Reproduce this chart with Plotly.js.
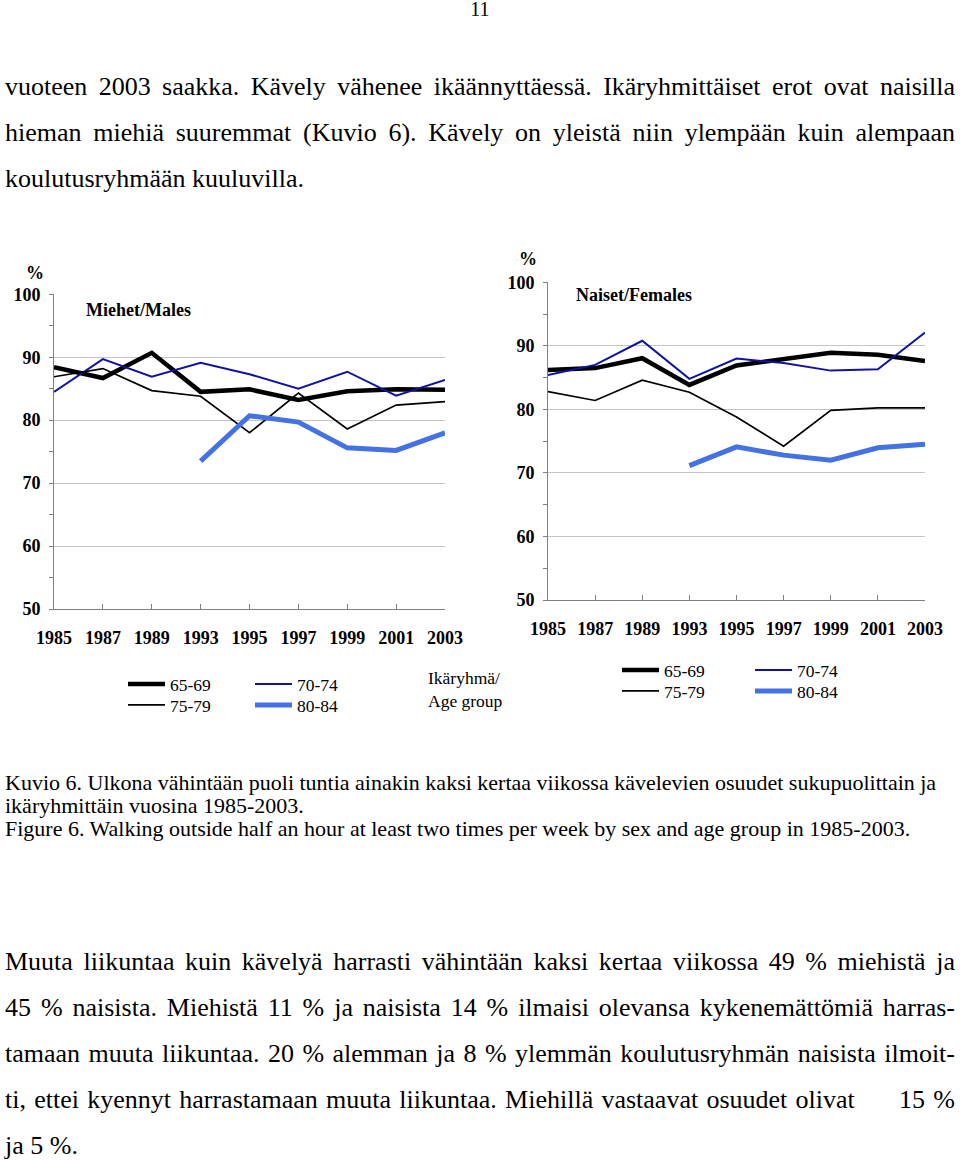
<!DOCTYPE html>
<html><head><meta charset="utf-8">
<script src="https://cdn.plot.ly/plotly-3.0.1.min.js"></script>
<style>
html,body{margin:0;padding:0;background:#fff;}
body{width:960px;height:1160px;position:relative;overflow:hidden;font-family:"Liberation Serif","Times New Roman",serif;color:#000;}
#chart{position:absolute;left:0;top:0;width:960px;height:1160px;}
.t{position:absolute;left:5px;width:950px;}
.p{font-size:26px;line-height:46px;}
.j{text-align:justify;text-align-last:justify;}
.cap{font-size:22px;line-height:23px;width:955px;}
</style></head>
<body>
<div id="chart"></div>
<div class="t" style="top:-1px;text-align:center;font-size:20px;line-height:20px;">11</div>
<div class="t p" style="top:64px;">
 <div class="j">vuoteen 2003 saakka. Kävely vähenee ikäännyttäessä. Ikäryhmittäiset erot ovat naisilla</div>
 <div class="j">hieman miehiä suuremmat (Kuvio 6). Kävely on yleistä niin ylempään kuin alempaan</div>
 <div>koulutusryhmään kuuluvilla.</div>
</div>
<div class="t cap" style="top:771px;">
 <div>Kuvio 6. Ulkona vähintään puoli tuntia ainakin kaksi kertaa viikossa kävelevien osuudet sukupuolittain ja</div>
 <div>ikäryhmittäin vuosina 1985-2003.</div>
 <div>Figure 6. Walking outside half an hour at least two times per week by sex and age group in 1985-2003.</div>
</div>
<div class="t p" style="top:939px;">
 <div class="j">Muuta liikuntaa kuin kävelyä harrasti vähintään kaksi kertaa viikossa 49 % miehistä ja</div>
 <div class="j">45 % naisista. Miehistä 11 % ja naisista 14 % ilmaisi olevansa kykenemättömiä harras-</div>
 <div class="j">tamaan muuta liikuntaa. 20 % alemman ja 8 % ylemmän koulutusryhmän naisista ilmoit-</div>
 <div class="j">ti, ettei kyennyt harrastamaan muuta liikuntaa. Miehillä vastaavat osuudet olivat<span style="display:inline-block;width:36px"></span> 15 %</div>
 <div>ja 5 %.</div>
</div>
<script>
// ---- data ----
var years = ['1985','1987','1989','1993','1995','1997','1999','2001','2003'];
var ageGroups = ['65-69','70-74','75-79','80-84'];
var yTicks = [50,60,70,80,90,100];
var yTickLabels = ['50','60','70','80','90','100'];

var males6569 = [88.4, 86.7, 90.7, 84.5, 84.9, 83.2, 84.6, 84.9, 84.85];
var males7074 = [84.5, 89.7, 86.9, 89.1, 87.3, 85.0, 87.7, 83.9, 86.4];
var males7579 = [86.9, 88.2, 84.7, 83.8, 78.0, 84.3, 78.6, 82.4, 82.95];
var males8084 = [null, null, null, 73.5, 80.7, 79.7, 75.6, 75.2, 78.0];

var females6569 = [86.2, 86.5, 88.05, 83.85, 86.9, 87.9, 88.9, 88.6, 87.6];
var females7074 = [85.4, 87.0, 90.8, 84.8, 88.0, 87.3, 86.1, 86.3, 92.1];
var females7579 = [82.8, 81.4, 84.6, 82.7, 78.8, 74.2, 79.85, 80.25, 80.25];
var females8084 = [null, null, null, 71.15, 74.1, 72.8, 72.0, 73.95, 74.5];

// ---- styles ----
var W = 960, H = 1160;
function px(x){return x/W;}
function py(y){return 1 - y/H;}
var serif = 'Liberation Serif, Times New Roman, serif';
var styles = [
  {color:'#000000', width:4.5},
  {color:'#1212a2', width:2},
  {color:'#000000', width:1.7},
  {color:'#4472e2', width:5}
];

function mk(vals, i, xa, ya, leg){
  return {type:'scatter', mode:'lines', x:years, y:vals, name:ageGroups[i],
    xaxis:xa, yaxis:ya, legend:leg, connectgaps:false,
    line:{color:styles[i].color, width:styles[i].width}, hoverinfo:'skip'};
}
var data = [
  mk(males6569,0,'x','y','legend'), mk(males7074,1,'x','y','legend'),
  mk(males7579,2,'x','y','legend2'), mk(males8084,3,'x','y','legend2'),
  mk(females6569,0,'x2','y2','legend3'), mk(females7074,1,'x2','y2','legend3'),
  mk(females7579,2,'x2','y2','legend4'), mk(females8084,3,'x2','y2','legend4')
];

function xax(dom, anchor){
  return {domain:dom, anchor:anchor, type:'category', range:[0,8],
    showline:true, linecolor:'#808080', linewidth:1, showgrid:false, zeroline:false,
    ticks:'inside', ticklen:5, tickcolor:'#808080',
    tickfont:{family:serif, size:18, color:'#000', weight:'bold'}, ticklabelstandoff:12};
}
function yax(dom, anchor){
  return {domain:dom, anchor:anchor, range:[50,100], tickvals:yTicks, ticktext:yTickLabels,
    showline:true, linecolor:'#808080', linewidth:1, showgrid:true, gridcolor:'#c4c4c4', gridwidth:1,
    zeroline:false, ticks:'',
    minor:{dtick:5, tick0:50, ticks:'outside', ticklen:4, tickcolor:'#808080', showgrid:false},
    tickfont:{family:serif, size:18, color:'#000', weight:'bold'}, ticklabelstandoff:9};
}
function leg(x, y, ew){
  return {x:px(x), y:py(y), xanchor:'left', yanchor:'middle', orientation:'h',
    itemwidth:37, entrywidth:ew, bgcolor:'rgba(0,0,0,0)', borderwidth:0,
    font:{family:serif, size:17.5, color:'#000'}, traceorder:'normal', itemclick:false, itemdoubleclick:false};
}
var boldF = {family:serif, size:18, color:'#000', weight:'bold'};
function ann(text, x, y, font, xanchor){
  return {text:text, x:px(x), y:py(y), xref:'paper', yref:'paper', showarrow:false,
    xanchor:xanchor||'left', yanchor:'middle', align:'left', font:font};
}
var layout = {
  width:W, height:H, margin:{l:0,r:0,t:0,b:0},
  paper_bgcolor:'rgba(0,0,0,0)', plot_bgcolor:'rgba(0,0,0,0)',
  showlegend:true,
  xaxis: xax([px(54), px(445)], 'y'),
  yaxis: yax([py(609), py(294.3)], 'x'),
  xaxis2: xax([px(548), px(925)], 'y2'),
  yaxis2: yax([py(600), py(282.3)], 'x2'),
  legend: leg(123, 684, 75),
  legend2: leg(123, 705, 75),
  legend3: leg(617, 670, 81),
  legend4: leg(617, 691, 81),
  annotations:[
    ann('%', 35, 273, boldF, 'center'),
    ann('%', 528, 259, boldF, 'center'),
    ann('Miehet/Males', 84, 310, boldF),
    ann('Naiset/Females', 574, 295, boldF),
    ann('Ikäryhmä/<br>Age group', 426, 689, {family:serif, size:17.5, color:'#000'})
  ]
};
Plotly.newPlot('chart', data, layout, {displayModeBar:false, staticPlot:true});
</script>
</body></html>
